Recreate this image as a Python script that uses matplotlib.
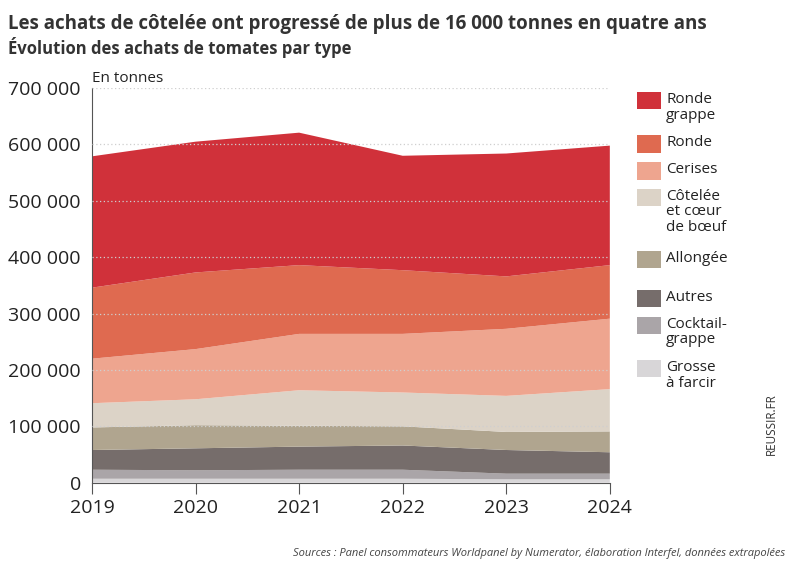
import matplotlib
matplotlib.use("Agg")
import matplotlib.pyplot as plt
from matplotlib.patches import Rectangle

years = [2019, 2020, 2021, 2022, 2023, 2024]
# in tonnes, bottom to top
grosse = [7000, 7000, 7000, 7000, 6000, 6000]
cocktail = [16000, 15000, 16000, 16000, 10000, 10000]
autres = [35000, 39000, 41000, 43000, 42000, 38000]
allongee = [40000, 41000, 37000, 34000, 32000, 37000]
cotelee = [43000, 46000, 63000, 60000, 64000, 75000]
cerises = [79000, 89000, 100000, 104000, 119000, 125000]
ronde = [126000, 136000, 122000, 113000, 93000, 95000]
ronde_grappe = [233000, 232000, 235000, 203000, 218000, 212000]

series = [grosse, cocktail, autres, allongee, cotelee, cerises, ronde, ronde_grappe]
colors = ["#d8d6d8", "#aaa5a8", "#766d6b", "#b0a58f", "#dcd3c7", "#eea58f", "#df6a50", "#d0313a"]
legend_labels = ["Ronde\ngrappe", "Ronde", "Cerises", "Côtelée\net cœur\nde bœuf",
                 "Allongée", "Autres", "Cocktail-\ngrappe", "Grosse\nà farcir"]

plt.rcParams["font.family"] = ["Open Sans", "DejaVu Sans"]

fig = plt.figure(figsize=(7.93, 5.76), dpi=100)
ax = fig.add_axes([0.116, 0.162, 0.653, 0.685])

ax.stackplot(years, *series, colors=colors, linewidth=0)
ax.set_xlim(2019, 2024)
ax.set_ylim(0, 700000)
ax.set_yticks(range(0, 700001, 100000))
ax.set_yticklabels([f"{v:,}".replace(",", " ") for v in range(0, 700001, 100000)], fontsize=14, color="#222222")
ax.set_xticks(years)
ax.set_xticklabels([str(y) for y in years], fontsize=14, color="#222222")
for y in range(100000, 700001, 100000):
    ax.axhline(y, color="#cfcfcf", linestyle=(0, (1, 2)), linewidth=0.9, zorder=5)
for s in ["top", "right"]:
    ax.spines[s].set_visible(False)
ax.spines["left"].set_color("#555555")
ax.spines["bottom"].set_color("#555555")
ax.tick_params(axis="y", length=0, pad=8)
ax.tick_params(axis="x", length=8, direction="out", color="#555555", pad=4)

ax.text(0.0, 1.005, "En tonnes", transform=ax.transAxes, fontsize=11, va="bottom", color="#222222")

fig.text(0.01, 0.975, "Les achats de côtelée ont progressé de plus de 16 000 tonnes en quatre ans",
         fontsize=13.5, fontweight="bold", color="#333333", va="top")
fig.text(0.01, 0.935, "Évolution des achats de tomates par type",
         fontsize=12, fontweight="bold", color="#333333", va="top")

# legend
ys = [0.84, 0.765, 0.718, 0.672, 0.565, 0.497, 0.45, 0.375]
for lab, col, yy in zip(legend_labels, colors[::-1], ys):
    fig.patches.append(Rectangle((0.803, yy - 0.03), 0.03, 0.03, transform=fig.transFigure,
                                 facecolor=col, edgecolor="none"))
    fig.text(0.84, yy, lab, fontsize=11, va="top", color="#222222", linespacing=1.05)

fig.text(0.965, 0.21, "REUSSIR.FR", rotation=90, fontsize=8.5, color="#333333", va="bottom")
fig.text(0.99, 0.035, "Sources : Panel consommateurs Worldpanel by Numerator, élaboration Interfel, données extrapolées",
         fontsize=8, style="italic", color="#444444", ha="right")

fig.savefig("out.png", dpi=100)
